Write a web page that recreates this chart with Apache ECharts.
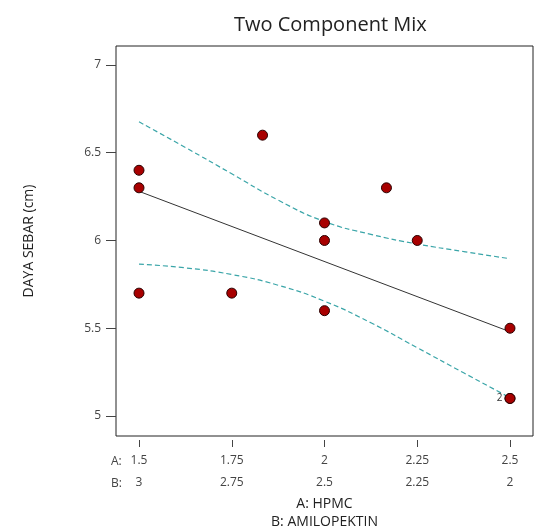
<!DOCTYPE html>
<html lang="en">
<head>
    <meta charset="UTF-8">
    <title>Two Component Mix</title>
    <script src="https://cdn.jsdelivr.net/npm/echarts@6.0.0/dist/echarts.min.js"></script>
    <style>
        * { margin: 0; padding: 0; box-sizing: border-box; }
        body { background: #fff; }
        #chart { width: 551px; height: 531px; }
    </style>
</head>
<body>
    <div id="chart"></div>

    <script>
        // design points (A: HPMC) and measured response
        const hpmc = [1.5, 1.5, 1.5, 1.75, 1.833, 2, 2, 2, 2.167, 2.25, 2.5, 2.5, 2.5];
        const dayaSebar = [6.4, 6.3, 5.7, 5.7, 6.6, 6.1, 6.0, 5.6, 6.3, 6.0, 5.5, 5.1, 5.1];

        // fitted line and 95% confidence band
        const fitLine = [[1.5, 6.28], [2.5, 5.48]];
        const bandX = [1.5, 1.625, 1.75, 1.875, 2, 2.125, 2.25, 2.375, 2.5];
        const bandUpper = [6.676, 6.53, 6.38, 6.23, 6.108, 6.035, 5.98, 5.937, 5.896];
        const bandLower = [5.865, 5.844, 5.806, 5.745, 5.654, 5.531, 5.389, 5.246, 5.104];

        // tick labels for both components
        const ticksA = [1.5, 1.75, 2, 2.25, 2.5];
        const ticksB = ['3', '2.75', '2.5', '2.25', '2'];
        const ticksY = [5, 5.5, 6, 6.5, 7];

        const font = '"Open Sans", sans-serif';
        const chart = echarts.init(document.getElementById('chart'));

        const points = hpmc.map((x, i) => [x, dayaSebar[i]]);
        // the last point is a replicate, marked with "2"
        const pointData = points.map((p, i) => {
            if (i === points.length - 1) {
                return {
                    value: p,
                    label: { show: true, position: 'left', formatter: '2', distance: 2, fontSize: 10, color: '#333', fontFamily: font }
                };
            }
            return p;
        });

        const option = {
            animation: false,
            title: {
                text: 'Two Component Mix',
                left: 229,
                top: 10,
                textStyle: { fontFamily: font, fontSize: 20, fontWeight: 'normal', color: '#222' }
            },
            grid: {
                left: 116, top: 46, right: 18, bottom: 95,
                outerBoundsMode: 'none',
                show: true,
                borderColor: '#222',
                borderWidth: 1
            },
            xAxis: {
                type: 'value',
                min: 1.438,
                max: 2.562,
                offset: 4,
                axisLine: { show: false },
                splitLine: { show: false },
                axisTick: { show: true, length: 7, customValues: ticksA, lineStyle: { color: '#444' } },
                axisLabel: {
                    customValues: ticksA,
                    margin: 10,
                    fontFamily: font,
                    fontSize: 12,
                    color: '#444',
                    lineHeight: 22,
                    formatter: function (v) {
                        const i = ticksA.indexOf(v);
                        return v + '\n' + (i >= 0 ? ticksB[i] : '');
                    }
                },
                name: 'A: HPMC\nB: AMILOPEKTIN',
                nameLocation: 'middle',
                nameGap: 55,
                nameMoveOverlap: false,
                nameTextStyle: { fontFamily: font, fontSize: 14, color: '#222', lineHeight: 18 }
            },
            yAxis: {
                type: 'value',
                min: 4.886,
                max: 7.108,
                axisLine: { show: false },
                splitLine: { show: false },
                axisTick: { show: true, length: 10, customValues: ticksY, lineStyle: { color: '#444' } },
                axisLabel: { customValues: ticksY, margin: 15, fontFamily: font, fontSize: 12, color: '#444' },
                name: 'DAYA SEBAR (cm)',
                nameLocation: 'middle',
                nameGap: 80,
                nameMoveOverlap: false,
                nameTextStyle: { fontFamily: font, fontSize: 14, color: '#222' }
            },
            graphic: [
                { type: 'text', left: 111, top: 456, style: { text: 'A:', font: '12px ' + font, fill: '#444' } },
                { type: 'text', left: 111, top: 478, style: { text: 'B:', font: '12px ' + font, fill: '#444' } }
            ],
            series: [
                {
                    type: 'line',
                    data: bandX.map((x, i) => [x, bandUpper[i]]),
                    smooth: true,
                    symbol: 'none',
                    lineStyle: { color: '#3aa5a8', width: 1.2, type: [5, 3] },
                    z: 2
                },
                {
                    type: 'line',
                    data: bandX.map((x, i) => [x, bandLower[i]]),
                    smooth: true,
                    symbol: 'none',
                    lineStyle: { color: '#3aa5a8', width: 1.2, type: [5, 3] },
                    z: 2
                },
                {
                    type: 'line',
                    data: fitLine,
                    symbol: 'none',
                    lineStyle: { color: '#333', width: 1 },
                    z: 3
                },
                {
                    type: 'scatter',
                    data: pointData,
                    symbolSize: 10,
                    itemStyle: { color: '#a80000', borderColor: '#2a0000', borderWidth: 1, opacity: 1 },
                    z: 4
                }
            ]
        };

        chart.setOption(option);
    </script>
</body>
</html>
